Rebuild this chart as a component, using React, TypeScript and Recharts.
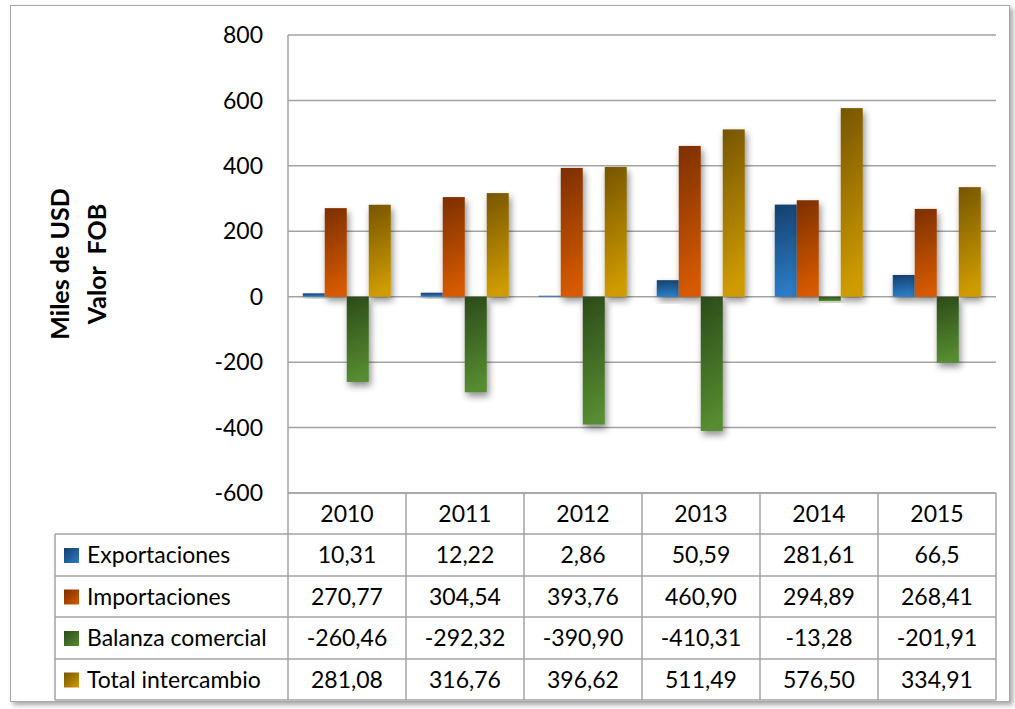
import React from "react";
import { BarChart, Bar, XAxis, YAxis, CartesianGrid } from "recharts";

const years = ["2010", "2011", "2012", "2013", "2014", "2015"];
const exportaciones = [10.31, 12.22, 2.86, 50.59, 281.61, 66.5];
const importaciones = [270.77, 304.54, 393.76, 460.9, 294.89, 268.41];
const balanza = [-260.46, -292.32, -390.9, -410.31, -13.28, -201.91];
const total = [281.08, 316.76, 396.62, 511.49, 576.5, 334.91];
const exportLabels = ["10,31", "12,22", "2,86", "50,59", "281,61", "66,5"];
const importLabels = ["270,77", "304,54", "393,76", "460,90", "294,89", "268,41"];
const balanzaLabels = ["-260,46", "-292,32", "-390,90", "-410,31", "-13,28", "-201,91"];
const totalLabels = ["281,08", "316,76", "396,62", "511,49", "576,50", "334,91"];
const yTicks = [-600, -400, -200, 0, 200, 400, 600, 800];

const series = [
  { key: "exp", name: "Exportaciones", values: exportaciones, labels: exportLabels, top: "#163f6b", bottom: "#2b7cc6" },
  { key: "imp", name: "Importaciones", values: importaciones, labels: importLabels, top: "#7c2f00", bottom: "#d65a00" },
  { key: "bal", name: "Balanza comercial", values: balanza, labels: balanzaLabels, top: "#2c4a1a", bottom: "#568c30" },
  { key: "tot", name: "Total intercambio", values: total, labels: totalLabels, top: "#765500", bottom: "#cf9c00" },
];

const data = years.map((y, i) => {
  const row: any = { year: y };
  series.forEach((s) => (row[s.key] = s.values[i]));
  return row;
});

const FONT = "Lato, 'Open Sans', sans-serif";
const PLOT_L = 288;
const PLOT_R = 996;
const PLOT_T = 35;
const PLOT_B = 493;
const CHART_H = 530;
const ROW_Y = [493, 534, 576, 617, 659, 700];
const COL_W = (PLOT_R - PLOT_L) / years.length;
const TABLE_L = 55;
const GRID = "#a3a3a3";

const ShadowRect = (props: any) => {
  const { x, y, width, height, fill } = props;
  if (width == null || height == null) return null;
  const yy = height < 0 ? y + height : y;
  const hh = Math.abs(height);
  return <rect x={x} y={yy} width={width} height={hh} fill={fill} filter="url(#barShadow)" />;
};

export default function App() {
  return (
    <div
      style={{
        position: "absolute",
        left: 0,
        top: 0,
        width: 1015,
        height: 709,
        background: "#fff",
        fontFamily: FONT,
        overflow: "hidden",
      }}
    >
      <div
        style={{
          position: "absolute",
          left: 10,
          top: 5,
          width: 998,
          height: 695,
          border: "1.5px solid #a8a8a8",
          boxShadow: "3px 3px 5px rgba(0,0,0,0.35)",
          background: "#fff",
        }}
      />
      <div style={{ position: "absolute", left: 0, top: 0 }}>
        <BarChart
          width={1015}
          height={CHART_H}
          data={data}
          margin={{ top: PLOT_T, right: 1015 - PLOT_R, bottom: CHART_H - PLOT_B, left: 0 }}
          barCategoryGap="12.5%"
          barGap={0}
        >
          <defs>
            <filter id="barShadow" x="-30%" y="-30%" width="170%" height="170%">
              <feDropShadow dx="2" dy="4" stdDeviation="3.5" floodColor="#000" floodOpacity="0.45" />
            </filter>
            {series.map((s) => (
              <linearGradient key={s.key} id={"g_" + s.key} x1="0" y1="0" x2="0.12" y2="1">
                <stop offset="0%" stopColor={s.top} />
                <stop offset="100%" stopColor={s.bottom} />
              </linearGradient>
            ))}
          </defs>
          <CartesianGrid vertical={false} stroke={GRID} strokeWidth={1.5} />
          <XAxis dataKey="year" hide />
          <YAxis
            width={PLOT_L}
            domain={[-600, 800]}
            ticks={yTicks}
            interval={0}
            tickLine={false}
            tickSize={0}
            tickMargin={25}
            axisLine={{ stroke: GRID, strokeWidth: 1.5 }}
            tick={{ fill: "#000", fontSize: 23, fontFamily: FONT }}
          />
          {series.map((s) => (
            <Bar
              key={s.key}
              dataKey={s.key}
              name={s.name}
              fill={`url(#g_${s.key})`}
              isAnimationActive={false}
              shape={<ShadowRect />}
            />
          ))}
        </BarChart>
      </div>

      <svg
        style={{ position: "absolute", left: 0, top: 0 }}
        width={1015}
        height={709}
        pointerEvents="none"
      >
        <text
          transform="translate(69,264) rotate(-90)"
          textAnchor="middle"
          fontFamily={FONT}
          fontWeight="bold"
          fontSize={25}
          fill="#000"
        >
          Miles de USD
        </text>
        <text
          transform="translate(106,264) rotate(-90)"
          textAnchor="middle"
          fontFamily={FONT}
          fontWeight="bold"
          fontSize={25}
          fill="#000"
          style={{ whiteSpace: "pre" }}
        >
          {"Valor  FOB"}
        </text>

        {/* data table lines */}
        <g stroke={GRID} strokeWidth={1.5}>
          <line x1={PLOT_L} y1={ROW_Y[0]} x2={PLOT_R} y2={ROW_Y[0]} />
          {ROW_Y.slice(1).map((y, i) => (
            <line key={"h" + i} x1={TABLE_L} y1={y} x2={PLOT_R} y2={y} />
          ))}
          <line x1={TABLE_L} y1={ROW_Y[1]} x2={TABLE_L} y2={ROW_Y[5]} />
          {years.map((_, i) => (
            <line key={"v" + i} x1={PLOT_L + i * COL_W} y1={ROW_Y[0]} x2={PLOT_L + i * COL_W} y2={ROW_Y[5]} />
          ))}
          <line x1={PLOT_R} y1={ROW_Y[0]} x2={PLOT_R} y2={ROW_Y[5]} />
        </g>

        {years.map((y, i) => (
          <text
            key={"yr" + i}
            x={PLOT_L + (i + 0.5) * COL_W}
            y={(ROW_Y[0] + ROW_Y[1]) / 2 + 8}
            textAnchor="middle"
            fontFamily={FONT}
            fontSize={23}
            fill="#000"
          >
            {y}
          </text>
        ))}

        {series.map((s, r) => {
          const cy = (ROW_Y[r + 1] + ROW_Y[r + 2]) / 2;
          return (
            <g key={"row" + s.key}>
              <rect x={64} y={cy - 7} width={15} height={15} fill={`url(#lg_${s.key})`} />
              <text x={87} y={cy + 8} fontFamily={FONT} fontSize={23} fill="#000">
                {s.name}
              </text>
              {s.labels.map((l, i) => (
                <text
                  key={"c" + i}
                  x={PLOT_L + (i + 0.5) * COL_W}
                  y={cy + 8}
                  textAnchor="middle"
                  fontFamily={FONT}
                  fontSize={23}
                  fill="#000"
                >
                  {l}
                </text>
              ))}
            </g>
          );
        })}
        <defs>
          {series.map((s) => (
            <linearGradient key={s.key} id={"lg_" + s.key} x1="0" y1="0" x2="1" y2="1">
              <stop offset="0%" stopColor={s.top} />
              <stop offset="100%" stopColor={s.bottom} />
            </linearGradient>
          ))}
        </defs>
      </svg>
    </div>
  );
}
